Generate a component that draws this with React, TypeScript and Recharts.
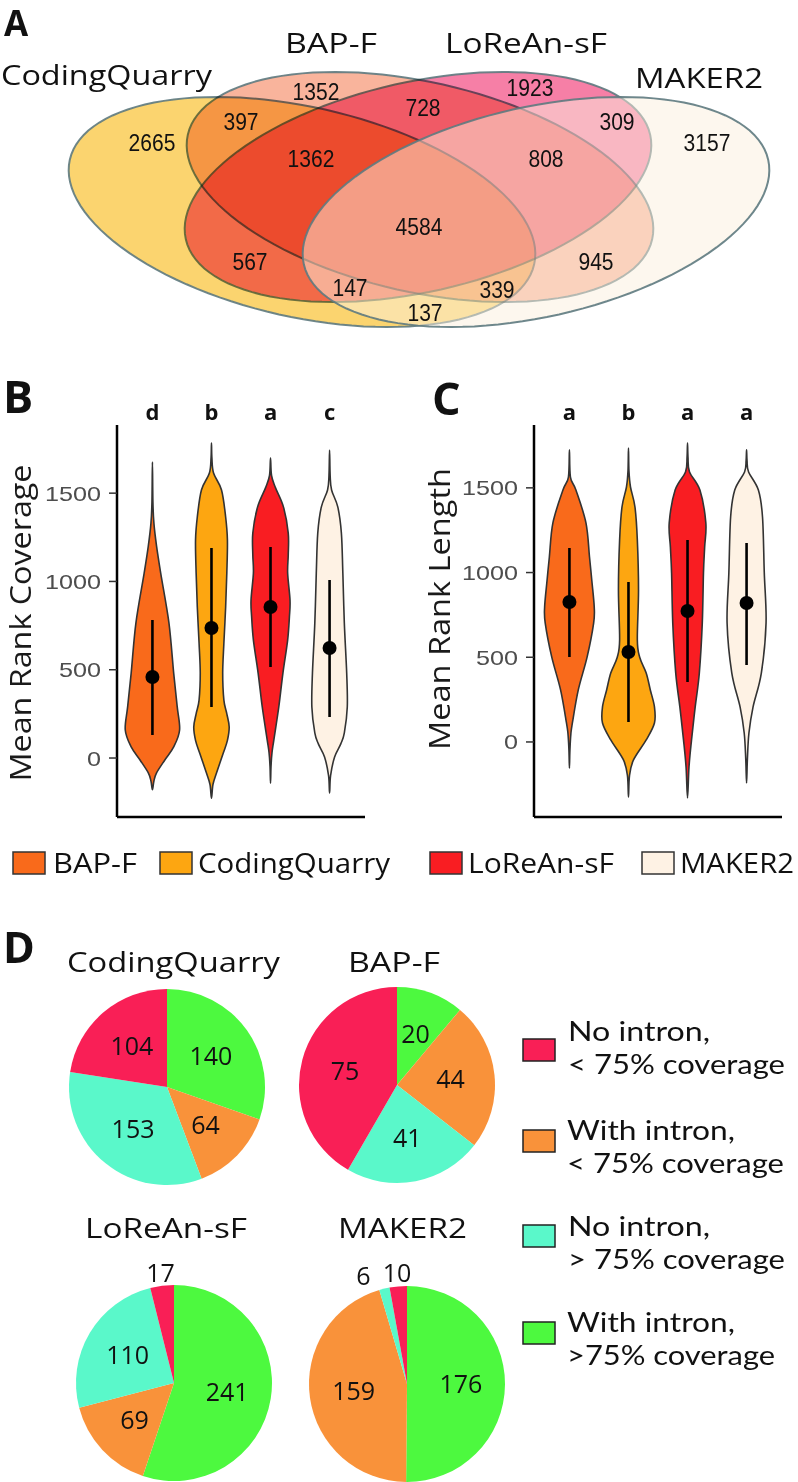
import React from 'react';
import { ScatterChart, Scatter, XAxis, YAxis, PieChart, Pie, Cell } from 'recharts';

const FONT = "'Open Sans', 'DejaVu Sans', sans-serif";
const LEGEND_FONT = "Lato, 'Open Sans', sans-serif";
const NUM_FONT = "'Liberation Sans', Arial, sans-serif";

// ---------- A: Venn diagram ----------
const vennSets = ['CodingQuarry', 'BAP-F', 'LoReAn-sF', 'MAKER2'];
const vennFills = ['#FBD46F', '#F9B49C', '#F67FA6', '#FBEFDD'];
// ellipse layout (venn space, same units as the chart)
const vennCx = [302, 420, 418, 536];
const vennCy = [212, 187, 187, 212];
const vennTilt = [12.7, 12.7, -12.7, -12.7];
const VENN_A = 238;
const VENN_B = 105;
const VENN_N = 120;

const vennCounts = [2665, 1352, 1923, 3157, 397, 728, 309, 1362, 808, 4584, 567, 945, 147, 339, 137];
const vennLabelX = [152, 316, 530, 707, 241, 423, 617, 311, 546, 419, 250, 596, 350, 497, 425];
const vennLabelY = [142, 91, 87, 142, 121, 107, 121, 158, 158, 226, 261, 261, 287, 289, 312];

// ---------- B / C: violins ----------
const groups = ['BAP-F', 'CodingQuarry', 'LoReAn-sF', 'MAKER2'];
const groupColors = ['#F96A1B', '#FDA611', '#F91D22', '#FEF2E4'];

// [mean rank, half width of the violin in category units]
const covBap = [[-180, 0], [-130, 0.025], [-85, 0.068], [-11, 0.21], [63, 0.36], [159, 0.46], [290, 0.42], [481, 0.36], [764, 0.28], [1047, 0.14], [1200, 0.07], [1330, 0.025], [1450, 0.008], [1676, 0]];
const covCq = [[-227, 0], [-150, 0.025], [-85, 0.085], [28, 0.2], [100, 0.27], [176, 0.3], [250, 0.26], [328, 0.21], [481, 0.19], [650, 0.21], [855, 0.24], [1050, 0.26], [1234, 0.27], [1365, 0.24], [1518, 0.17], [1614, 0.035], [1700, 0.007], [1784, 0]];
const covLorean = [[-142, 0], [-50, 0.008], [30, 0.025], [102, 0.056], [289, 0.14], [481, 0.21], [668, 0.29], [800, 0.32], [895, 0.33], [1047, 0.29], [1150, 0.3], [1274, 0.3], [1421, 0.22], [1530, 0.085], [1600, 0.017], [1699, 0]];
const covMaker = [[-198, 0], [-100, 0.017], [6, 0.085], [80, 0.19], [142, 0.25], [289, 0.3], [481, 0.29], [764, 0.25], [1047, 0.225], [1274, 0.2], [1421, 0.14], [1518, 0.034], [1600, 0.01], [1744, 0]];
const covMean = [459, 736, 855, 623];
const covLow = [130, 289, 515, 232];
const covHigh = [781, 1189, 1195, 1008];
const covLetters = ['d', 'b', 'a', 'c'];

const lenBap = [[-154, 0], [-50, 0.008], [50, 0.025], [112, 0.05], [307, 0.15], [502, 0.3], [702, 0.41], [797, 0.42], [950, 0.38], [1092, 0.34], [1293, 0.28], [1487, 0.11], [1564, 0.017], [1724, 0]];
const lenCq = [[-325, 0], [-200, 0.017], [-106, 0.085], [12, 0.3], [112, 0.44], [207, 0.44], [307, 0.37], [407, 0.3], [500, 0.19], [602, 0.15], [897, 0.17], [1192, 0.15], [1387, 0.11], [1505, 0.034], [1600, 0.008], [1735, 0]];
const lenLorean = [[-331, 0], [-148, 0.025], [12, 0.068], [207, 0.13], [407, 0.2], [702, 0.25], [998, 0.27], [1150, 0.29], [1293, 0.31], [1487, 0.21], [1594, 0.034], [1680, 0.008], [1765, 0]];
const lenMaker = [[-242, 0], [-100, 0.014], [53, 0.04], [207, 0.11], [407, 0.25], [702, 0.33], [998, 0.3], [1328, 0.27], [1487, 0.2], [1594, 0.034], [1660, 0.008], [1724, 0]];
const lenMean = [826, 531, 773, 820];
const lenLow = [502, 118, 354, 455];
const lenHigh = [1145, 944, 1192, 1175];
const lenLetters = ['a', 'b', 'a', 'a'];

const rankTicks = [0, 500, 1000, 1500];

// ---------- D: pies ----------
const pieCategories = ['With intron, >75% coverage', 'With intron, < 75% coverage', 'No intron, > 75% coverage', 'No intron, < 75% coverage'];
const pieColors = ['#4DF93F', '#F9923A', '#5AF8CA', '#F91F56'];
const cqCounts = [140, 64, 153, 104];
const bapCounts = [20, 44, 41, 75];
const loreanCounts = [241, 69, 110, 17];
const makerCounts = [176, 159, 6, 10];

// ---------- helpers ----------
const vennOutline = vennSets.flatMap((_, k) => {
  const th = (vennTilt[k] * Math.PI) / 180;
  return Array.from({ length: VENN_N }, (_, i) => {
    const t = (2 * Math.PI * i) / VENN_N;
    return {
      x: vennCx[k] + VENN_A * Math.cos(t) * Math.cos(th) - VENN_B * Math.sin(t) * Math.sin(th),
      y: vennCy[k] + VENN_A * Math.cos(t) * Math.sin(th) + VENN_B * Math.sin(t) * Math.cos(th),
    };
  });
});
const vennLabels = vennCounts.map((n, i) => ({ x: vennLabelX[i], y: vennLabelY[i], n }));

const hidden = () => <g />;

const VennShapes = (props: any) => {
  const pts = props.points || [];
  return (
    <g>
      {vennSets.map((s, k) => {
        const seg = pts.slice(k * VENN_N, (k + 1) * VENN_N);
        if (!seg.length) return null;
        const d = seg.map((p: any, i: number) => `${i ? 'L' : 'M'}${p.x},${p.y}`).join('') + 'Z';
        const last = k === vennSets.length - 1;
        return (
          <path
            key={s}
            d={d}
            fill={vennFills[k]}
            fillOpacity={last ? 0.5 : 1}
            stroke="#5E7A80"
            strokeWidth={2}
            strokeOpacity={0.9}
            style={last ? undefined : { mixBlendMode: 'multiply' }}
          />
        );
      })}
    </g>
  );
};

const VennCount = (p: any) => {
  const s = String(p.payload.n);
  return (
    <text x={p.cx} y={p.cy} dy={8.5} textAnchor="middle" fontFamily={NUM_FONT} fontSize={24} fill="#111"
      textLength={s.length * 11.7} lengthAdjust="spacingAndGlyphs">{s}</text>
  );
};

function closedSpline(pts: { x: number; y: number }[]) {
  const n = pts.length;
  if (!n) return '';
  let d = `M${pts[0].x},${pts[0].y}`;
  for (let i = 0; i < n; i++) {
    const p0 = pts[(i - 1 + n) % n], p1 = pts[i], p2 = pts[(i + 1) % n], p3 = pts[(i + 2) % n];
    const c1x = p1.x + (p2.x - p0.x) / 6, c1y = p1.y + (p2.y - p0.y) / 6;
    const c2x = p2.x - (p3.x - p1.x) / 6, c2y = p2.y - (p3.y - p1.y) / 6;
    d += `C${c1x},${c1y} ${c2x},${c2y} ${p2.x},${p2.y}`;
  }
  return d + 'Z';
}

const violinOutline = (prof: number[][], pos: number) => [
  ...prof.map(([v, w]) => ({ x: pos + w, y: v })),
  ...prof.slice(1, -1).reverse().map(([v, w]) => ({ x: pos - w, y: v })),
];

const violinPath = (fill: string) => (props: any) => (
  <path d={closedSpline(props.points || [])} fill={fill} stroke="#333" strokeWidth={1.6} />
);

// low/high pairs -> one vertical segment each
const RangeLines = (props: any) => {
  const pts = props.points || [];
  let d = '';
  for (let i = 0; i + 1 < pts.length; i += 2) d += `M${pts[i].x},${pts[i].y}L${pts[i + 1].x},${pts[i + 1].y}`;
  return <path d={d} stroke="#000" strokeWidth={2.6} fill="none" />;
};

const MeanDot = (p: any) => <circle cx={p.cx} cy={p.cy} r={7} fill="#000" />;

const ValueTick = (p: any) => {
  const s = String(p.payload.value);
  return (
    <text x={p.x} y={p.y} dy={7.5} textAnchor="end" fontFamily={NUM_FONT} fontSize={21} fill="#4D4D4D"
      textLength={s.length * 14} lengthAdjust="spacingAndGlyphs">{s}</text>
  );
};

function ViolinPanel({ profiles, means, lows, highs, letters, domain, left }: any) {
  const meanData = means.map((m: number, i: number) => ({ x: i + 1, y: m }));
  const rangeData = lows.flatMap((lo: number, i: number) => [{ x: i + 1, y: lo }, { x: i + 1, y: highs[i] }]);
  const letterTick = (p: any) => (
    <text x={p.x} y={p.y} dy={-5} textAnchor="middle" fontFamily={FONT} fontWeight={700} fontSize={22} fill="#111">
      {letters[p.payload.value - 1]}
    </text>
  );
  return (
    <div style={{ position: 'absolute', left, top: 380 }}>
      <ScatterChart width={380} height={460} margin={{ top: 5, right: 15, bottom: 22, left: 0 }}>
        <XAxis xAxisId="top" orientation="top" type="number" dataKey="x" domain={[0.4, 4.6]} ticks={[1, 2, 3, 4]}
          height={40} axisLine={false} tickLine={false} tickSize={0} tickMargin={0} tick={letterTick} />
        <XAxis type="number" dataKey="x" domain={[0.4, 4.6]} height={1} tick={false} tickLine={false}
          axisLine={{ stroke: '#000', strokeWidth: 2.5 }} />
        <YAxis type="number" dataKey="y" domain={domain} ticks={rankTicks} width={117} tickSize={8} tickMargin={8}
          tick={ValueTick} tickLine={{ stroke: '#333', strokeWidth: 1.5 }} axisLine={{ stroke: '#000', strokeWidth: 2.5 }} />
        {profiles.map((prof: number[][], i: number) => (
          <Scatter key={groups[i]} name={groups[i]} data={violinOutline(prof, i + 1)} shape={hidden}
            line={violinPath(groupColors[i])} isAnimationActive={false} />
        ))}
        <Scatter name="range" data={rangeData} shape={hidden} line={RangeLines} isAnimationActive={false} />
        <Scatter xAxisId="top" name="mean" data={meanData} shape={MeanDot} isAnimationActive={false} />
      </ScatterChart>
    </div>
  );
}

const pieData = (counts: number[]) => counts.map((value, i) => ({ name: pieCategories[i], value }));

const pieLabel = (counts: number[]) => (p: any) => {
  const total = counts.reduce((a, b) => a + b, 0);
  const RAD = Math.PI / 180;
  const small = p.value / total < 0.06;
  const r = small ? p.outerRadius + 13 : p.outerRadius * 0.55;
  let x = p.cx + r * Math.cos(-p.midAngle * RAD);
  const y = p.cy + r * Math.sin(-p.midAngle * RAD);
  const idx = counts.indexOf(p.value);
  if (small && idx >= 0 && idx + 1 < counts.length && counts[idx + 1] / total < 0.06) x -= 18;
  return (
    <text x={x} y={y} dy="0.36em" textAnchor="middle" fontFamily={FONT} fontSize={25} fill="#111">{p.value}</text>
  );
};

function PieSet({ counts, cx, cy }: { counts: number[]; cx: number; cy: number }) {
  return (
    <Pie data={pieData(counts)} dataKey="value" cx={cx} cy={cy} outerRadius={98} startAngle={90} endAngle={-270}
      stroke="none" label={pieLabel(counts)} labelLine={false} isAnimationActive={false}>
      {counts.map((_, i) => <Cell key={i} fill={pieColors[i]} />)}
    </Pie>
  );
}

const T = ({ x, y, size = 28, len, bold, rot, fill = '#111', children }: any) => (
  <text x={x} y={y} fontSize={size} fontFamily={FONT} fontWeight={bold ? 700 : 400} fill={fill}
    textLength={len} lengthAdjust={len ? 'spacingAndGlyphs' : undefined}
    textAnchor={rot ? 'middle' : 'start'} transform={rot ? `rotate(-90 ${x} ${y})` : undefined}>{children}</text>
);

// two-line legend entry
const Entry2 = ({ x, y, l1, len1, l2, len2 }: any) => (
  <text fontSize={27} fontFamily={LEGEND_FONT} fill="#111">
    <tspan x={x} y={y} textLength={len1} lengthAdjust="spacingAndGlyphs">{l1}</tspan>
    <tspan x={x} y={y + 33} textLength={len2} lengthAdjust="spacingAndGlyphs">{l2}</tspan>
  </text>
);

export default function App() {
  return (
    <div style={{ position: 'absolute', left: 0, top: 0, width: 798, height: 1482, background: '#fff', overflow: 'hidden' }}>
      {/* A */}
      <div style={{ position: 'absolute', left: 0, top: 0 }}>
        <ScatterChart width={798} height={440} margin={{ top: 0, right: 0, bottom: 0, left: 0 }}>
          <XAxis type="number" dataKey="x" domain={[0, 798]} hide />
          <YAxis type="number" dataKey="y" domain={[0, 440]} reversed hide />
          <Scatter name="sets" data={vennOutline} shape={hidden} line={VennShapes} isAnimationActive={false} />
          <Scatter name="counts" data={vennLabels} shape={VennCount} isAnimationActive={false} />
        </ScatterChart>
      </div>

      <ViolinPanel profiles={[covBap, covCq, covLorean, covMaker]} means={covMean} lows={covLow} highs={covHigh}
        letters={covLetters} domain={[-334, 1886]} left={0} />
      <ViolinPanel profiles={[lenBap, lenCq, lenLorean, lenMaker]} means={lenMean} lows={lenLow} highs={lenHigh}
        letters={lenLetters} domain={[-443, 1871]} left={417} />

      {/* D */}
      <div style={{ position: 'absolute', left: 0, top: 880 }}>
        <PieChart width={520} height={602} margin={{ top: 0, right: 0, bottom: 0, left: 0 }}>
          {PieSet({ counts: cqCounts, cx: 167, cy: 207 })}
          {PieSet({ counts: bapCounts, cx: 397, cy: 205 })}
          {PieSet({ counts: loreanCounts, cx: 174, cy: 503 })}
          {PieSet({ counts: makerCounts, cx: 407, cy: 504 })}
        </PieChart>
      </div>

      {/* text overlay */}
      <svg width={798} height={1482} style={{ position: 'absolute', left: 0, top: 0, pointerEvents: 'none' }}>
        <T x={4} y={36} size={35} bold>A</T>
        <T x={1} y={85} size={27} len={211}>CodingQuarry</T>
        <T x={285} y={53} size={27} len={92}>BAP-F</T>
        <T x={445} y={53} size={27} len={162}>LoReAn-sF</T>
        <T x={635} y={88} size={27} len={128}>MAKER2</T>

        <T x={3} y={413} size={45} bold>B</T>
        <T x={432} y={415} size={45} bold>C</T>
        <T x={31} y={623} size={30} len={317} rot fill="#1a1a1a">Mean Rank Coverage</T>
        <T x={450} y={609} size={30} len={282} rot fill="#1a1a1a">Mean Rank Length</T>

        <rect x={13} y={852} width={32} height={22} fill={groupColors[0]} stroke="#333" strokeWidth={1.5} />
        <T x={53} y={873} len={84}>BAP-F</T>
        <rect x={160} y={852} width={32} height={22} fill={groupColors[1]} stroke="#333" strokeWidth={1.5} />
        <T x={198} y={873} len={192}>CodingQuarry</T>
        <rect x={430} y={852} width={32} height={22} fill={groupColors[2]} stroke="#333" strokeWidth={1.5} />
        <T x={468} y={873} len={146}>LoReAn-sF</T>
        <rect x={642} y={852} width={32} height={22} fill={groupColors[3]} stroke="#333" strokeWidth={1.5} />
        <T x={680} y={873} len={114}>MAKER2</T>

        <T x={3} y={963} size={43} bold>D</T>
        <T x={67} y={972} len={213}>CodingQuarry</T>
        <T x={348} y={972} len={92}>BAP-F</T>
        <T x={85} y={1238} len={162}>LoReAn-sF</T>
        <T x={338} y={1238} len={129}>MAKER2</T>

        <rect x={523} y={1039} width={32} height={22} fill={pieColors[3]} stroke="#222" strokeWidth={1.5} />
        <Entry2 x={568} y={1041} l1="No intron," len1={142} l2="< 75% coverage" len2={217} />
        <rect x={523} y={1130} width={32} height={22} fill={pieColors[1]} stroke="#222" strokeWidth={1.5} />
        <Entry2 x={567} y={1140} l1="With intron," len1={168} l2="< 75% coverage" len2={217} />
        <rect x={523} y={1225} width={32} height={22} fill={pieColors[2]} stroke="#222" strokeWidth={1.5} />
        <Entry2 x={568} y={1236} l1="No intron," len1={142} l2="> 75% coverage" len2={217} />
        <rect x={523} y={1322} width={32} height={22} fill={pieColors[0]} stroke="#222" strokeWidth={1.5} />
        <Entry2 x={567} y={1332} l1="With intron," len1={168} l2=">75% coverage" len2={208} />
      </svg>
    </div>
  );
}
